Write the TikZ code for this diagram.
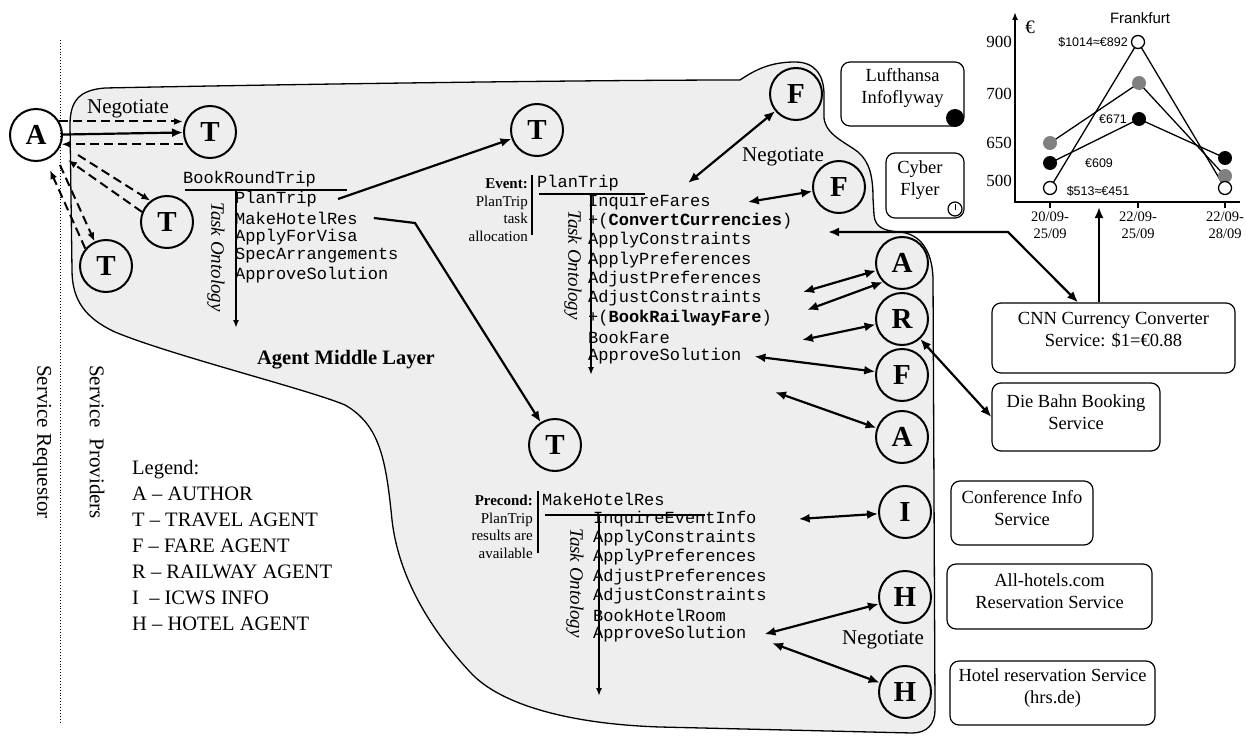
\documentclass[tikz,border=0pt]{standalone}
\usepackage{fontspec}
\setmainfont{Liberation Serif}
\setmonofont{Liberation Mono}
\newfontfamily\chartfont{Liberation Sans}
\usetikzlibrary{arrows.meta,positioning}
\definecolor{layergray}{gray}{0.935}
\tikzset{
  agent/.style={circle,draw,line width=2pt,minimum size=52pt,inner sep=0pt,
    font=\fontsize{29}{29}\selectfont\bfseries},
  servicebox/.style={draw,rounded corners=9pt,line width=1.2pt,inner sep=0pt},
  servicetext/.style={align=center,inner sep=0pt,font=\fontsize{18.5}{22}\selectfont},
  link/.style={line width=2.2pt,<->},
  oneway/.style={line width=2.2pt,->},
  neg/.style={line width=2pt,dash pattern=on 9pt off 5pt,-{Latex[length=9pt,width=7pt]}},
  taskline/.style={anchor=west,inner sep=0pt,font=\fontsize{17}{19}\selectfont\ttfamily},
  ontology/.style={rotate=-90,inner sep=0pt,font=\fontsize{19}{19}\selectfont\itshape},
  ontoaxis/.style={line width=1.8pt,-{Latex[length=8pt,width=6pt]}},
  rule/.style={line width=1.4pt},
  note/.style={anchor=east,align=right,inner sep=0pt,font=\fontsize{15}{17.5}\selectfont},
  big/.style={inner sep=0pt,font=\fontsize{21}{21}\selectfont},
  sidelabel/.style={rotate=-90,inner sep=0pt,font=\fontsize{21}{21}\selectfont},
  axislabel/.style={inner sep=0pt,font=\fontsize{17}{17}\selectfont},
  datelabel/.style={align=center,inner sep=0pt,font=\fontsize{14.5}{17}\selectfont},
  pricelabel/.style={inner sep=0pt,font=\fontsize{12.5}{12.5}\selectfont\chartfont},
  series/.style={line width=1.3pt},
  whitedot/.style={circle,draw,line width=1.3pt,fill=white,minimum size=13pt,inner sep=0pt},
  graydot/.style={circle,fill=black!50,minimum size=14pt,inner sep=0pt},
  blackdot/.style={circle,fill=black,minimum size=14pt,inner sep=0pt}
}

\begin{document}
\begin{tikzpicture}[x=1pt,y=-1pt,>={Latex[length=11pt,width=9pt]}]
\useasboundingbox (0,0) rectangle (1246,738);

% agent middle layer
\draw[line width=1.3pt,fill=layergray]
  (70,125) .. controls (70,100) and (80,90) .. (105,88)
  .. controls (300,84) and (600,80) .. (740,80)
  .. controls (755,70) and (770,62) .. (795,62)
  .. controls (815,62) and (824,75) .. (824,95)
  -- (824,118)
  .. controls (826,135) and (845,142) .. (858,152)
  .. controls (870,162) and (873,178) .. (873,198)
  -- (874,215)
  .. controls (875,228) and (885,231) .. (900,232)
  .. controls (920,234) and (932,250) .. (933,278)
  -- (935,710)
  .. controls (935,724) and (927,733) .. (912,733)
  -- (660,727)
  .. controls (570,724) and (500,705) .. (470,672)
  .. controls (445,645) and (400,590) .. (392,520)
  .. controls (386,460) and (380,425) .. (345,405)
  .. controls (310,390) and (170,355) .. (115,332)
  .. controls (85,318) and (72,300) .. (72,270)
  -- cycle;

\draw[dotted,line width=0.9pt] (60,40) -- (60,722);
\node[sidelabel] (req) at (42,442) {Service Requestor};
\node[sidelabel] (prov) at (97,442) {Service\ \ Providers};
\node[big,font=\fontsize{20.5}{20.5}\selectfont\bfseries] (layer) at (346,360) {Agent Middle Layer};

\node[anchor=north west,align=left,inner sep=0pt,font=\fontsize{20.5}{26}\selectfont] (legend) at (132,460)
  {Legend:\\A -- AUTHOR\\T -- TRAVEL AGENT\\F -- FARE AGENT\\R -- RAILWAY AGENT\\I\ \ -- ICWS INFO\\H -- HOTEL AGENT};

% requestor and travel agents
\node[agent] (auth) at (36,135) {A};
\node[agent] (ta) at (210,132) {T};
\node[agent] (tb) at (167,222) {T};
\node[agent] (tc) at (106,266) {T};
\node[big] (neg1) at (128,109) {Negotiate};

\coordinate (n1) at (78,155);
\coordinate (n2) at (68,160);
\coordinate (n3) at (60,165);
\coordinate (n4) at (50,170);
\draw[neg] (auth.30) -- (auth.30 -| ta.west);
\draw[oneway] (auth) -- (ta);
\draw[neg] (ta.west |- auth.-20) -- (auth.-20);
\draw[neg] (n1) -- (tb.128);
\draw[neg] (tb.158) -- (n2);
\draw[neg] (n3) -- (tc.115);
\draw[neg] (tc.140) -- (n4);

% BookRoundTrip
\node[taskline] (brt) at (183,179) {BookRoundTrip};
\draw[rule] (185,190) -- (347,190);
\draw[ontoaxis] (236,190) -- (236,328);
\foreach \txt [count=\i] in {PlanTrip,MakeHotelRes,ApplyForVisa,SpecArrangements,ApproveSolution}
  \node[taskline] (bt\i) at (235,{199+19*(\i-1)}) {\txt};
\node[ontology] (onto1) at (216,257) {Task Ontology};

% PlanTrip
\node[agent] (tplan) at (537,130) {T};
\coordinate[right=21pt of bt1] (c-plan);
\draw[oneway] (c-plan) -- (tplan);
\node[note] (event) at (528,210) {\textbf{Event:}\\PlanTrip\\task\\allocation};
\draw[rule] (532,175) -- (532,235);
\node[taskline] (ptr) at (537,183) {PlanTrip};
\draw[rule] (539,194) -- (645,194);
\draw[ontoaxis] (591,194) -- (591,375);
\foreach \txt [count=\i] in {InquireFares,{+(\textbf{ConvertCurrencies})},ApplyConstraints,ApplyPreferences,AdjustPreferences,AdjustConstraints,{+(\textbf{BookRailwayFare})},BookFare,ApproveSolution}
  \node[taskline] (pt\i) at (588,{202+19.3*(\i-1)}) {\txt};
\node[ontology] (onto2) at (573,265) {Task Ontology};

% MakeHotelRes
\node[agent] (thotel) at (555,445) {T};
\coordinate[right=16pt of bt2] (c-hotel);
\coordinate (c-hbend) at (415,223);
\draw[line width=2.2pt,->] (c-hotel) -- (c-hbend) -- (thotel);
\node[note] (precond) at (533,527) {\textbf{Precond:}\\PlanTrip\\results are\\available};
\draw[rule] (538,491) -- (538,553);
\node[taskline] (mhr) at (542,499) {MakeHotelRes};
\draw[rule] (545,515) -- (705,515);
\draw[ontoaxis] (599,515) -- (599,696);
\foreach \txt [count=\i] in {InquireEventInfo,ApplyConstraints,ApplyPreferences,AdjustPreferences,AdjustConstraints,BookHotelRoom,ApproveSolution}
  \node[taskline] (ht\i) at (593,{519+19.2*(\i-1)}) {\txt};
\node[ontology] (onto3) at (575,583) {Task Ontology};

% service agents
\node[agent] (fare1) at (796,94) {F};
\node[agent] (fare2) at (839,187) {F};
\node[agent] (auth1) at (902,263) {A};
\node[agent] (rail) at (902,319) {R};
\node[agent] (fare3) at (902,375) {F};
\node[agent] (auth2) at (902,437) {A};
\node[agent] (info) at (905,512) {I};
\node[agent] (hotel1) at (905,597) {H};
\node[agent] (hotel2) at (905,692) {H};
\node[big] (neg2) at (783,157) {Negotiate};
\node[big] (neg3) at (883,640) {Negotiate};

% services
\node[servicebox,minimum width=123pt,minimum height=64pt] (lh) at (902.5,94) {};
\node[servicetext] (lh-t) at (902.5,88) {Lufthansa\\Infoflyway};
\fill (955,118) circle[radius=9pt];
\node[servicebox,minimum width=78pt,minimum height=65pt] (cf) at (925,185.5) {};
\node[servicetext] (cf-t) at (920,180) {Cyber\\Flyer};
\draw[line width=1.2pt,fill=white] (955,209) circle[radius=7pt];
\draw[line width=0.9pt] (955,204) -- (955,210);
\node[servicebox,minimum width=243pt,minimum height=70pt] (cnn) at (1113.5,338) {};
\node[servicetext] (cnn-t) at (1113.5,330) {CNN Currency Converter\\Service: \$1=€0.88};
\node[servicebox,minimum width=168pt,minimum height=68pt] (bahn) at (1076,417) {};
\node[servicetext] (bahn-t) at (1076,412) {Die Bahn Booking\\Service};
\node[servicebox,minimum width=142pt,minimum height=64pt] (conf) at (1022,513) {};
\node[servicetext] (conf-t) at (1022,508) {Conference Info\\Service};
\node[servicebox,minimum width=205pt,minimum height=65pt] (allh) at (1049.5,596.5) {};
\node[servicetext] (allh-t) at (1049.5,591) {All-hotels.com\\Reservation Service};
\node[servicebox,minimum width=205pt,minimum height=64pt] (hrs) at (1052.5,693) {};
\node[servicetext] (hrs-t) at (1052.5,688) {Hotel reservation Service\\(hrs.de)};

% links
\coordinate (c-f1) at (688,183);
\coordinate[right=37pt of pt1] (c-f2);
\coordinate (c-cc) at (828,232);
\coordinate (c-ccbend) at (1008,232);
\coordinate (c-a1) at (803,292);
\coordinate (c-a1b) at (807,310);
\coordinate (c-r) at (802,340);
\coordinate[right=13pt of pt9] (c-f3);
\coordinate (c-a2) at (775,392);
\coordinate[right=42pt of ht1] (c-i);
\coordinate[right=18pt of ht7] (c-h1);
\coordinate (c-h2) at (772,643);
\draw[link] (c-f1) -- (fare1);
\draw[link] (c-f2) -- (fare2);
\draw[link] (c-cc) -- (c-ccbend) -- (cnn);
\draw[link] (c-a1) -- (auth1);
\draw[link] (c-a1b) -- (auth1.south west);
\draw[link] (c-r) -- (rail);
\draw[link] (c-f3) -- (fare3);
\draw[link] (c-a2) -- (auth2);
\draw[link] (rail) -- (bahn.west);
\draw[link] (c-i) -- (info);
\draw[link] (c-h1) -- (hotel1);
\draw[link] (c-h2) -- (hotel2);

% Frankfurt chart
\draw[line width=2pt,-{Latex[length=8pt,width=6pt]}] (1015,203) -- (1015,12);
\draw[line width=2pt] (1014,202) -- (1240,202);
\foreach \x in {1050,1138,1225}
  \draw[line width=1.2pt] (\x,202) -- (\x,208);
\node[axislabel,font=\fontsize{19}{19}\selectfont] (euro) at (1030,27) {€};
\node[inner sep=0pt,font=\fontsize{15}{15}\selectfont\chartfont] (city) at (1140,18) {Frankfurt};
\foreach \v/\y in {900/42,700/94,650/143,500/181}
  \node[axislabel,anchor=east] (y\v) at (1012,\y) {\v};
\node[datelabel] (d1) at (1050,225) {20/09-\\25/09};
\node[datelabel] (d2) at (1138,225) {22/09-\\25/09};
\node[datelabel] (d3) at (1225,225) {22/09-\\28/09};
\coordinate (c-up) at (1099,207);
\draw[oneway] (cnn.north -| c-up) -- (c-up);

\foreach \n/\x/\y in {w1/1050/188,w2/1138/42,w3/1225/188,g1/1050/143,g2/1139/83,g3/1225/176,b1/1050/163,b2/1139/119,b3/1225/158}
  \coordinate (\n) at (\x,\y);
\draw[series] (g1) -- (g2) -- (g3);
\draw[series] (b1) -- (b2) -- (b3);
\draw[series] (w1) -- (w2) -- (w3);
\foreach \n in {g1,g2,g3}
  \node[graydot] (m-\n) at (\n) {};
\foreach \n in {b1,b2,b3}
  \node[blackdot] (m-\n) at (\n) {};
\foreach \n in {w1,w2,w3}
  \node[whitedot] (m-\n) at (\n) {};
\node[pricelabel] (p892) at (1093,42) {\$1014≈€892};
\node[pricelabel] (p671) at (1113,119) {€671};
\node[pricelabel] (p609) at (1099,163) {€609};
\node[pricelabel] (p451) at (1098,191) {\$513≈€451};

\end{tikzpicture}
\end{document}
